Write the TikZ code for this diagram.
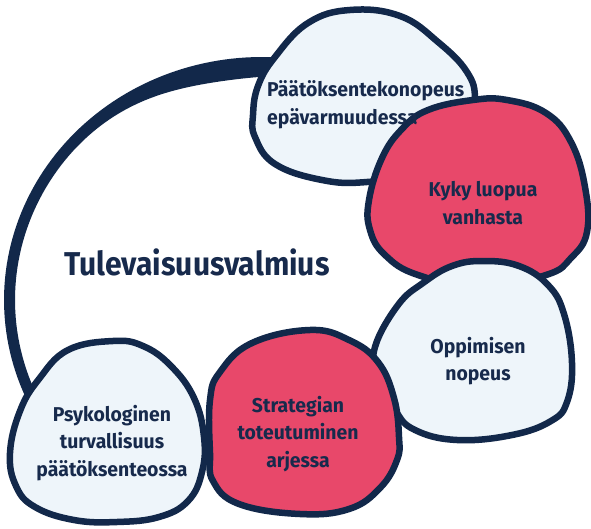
\documentclass[tikz,border=0pt]{standalone}
\usepackage{fontspec}
\setmainfont{Fira Sans}[FakeStretch=0.97]
\newfontfamily\titlefont{Fira Sans}[FakeStretch=0.91]
\definecolor{navy}{HTML}{12284A}
\definecolor{inknavy}{HTML}{172A4C}
\definecolor{paleblue}{HTML}{EEF5FA}
\definecolor{rosered}{HTML}{E8486A}
\begin{document}
\begin{tikzpicture}[x=1pt,y=-1pt,
  blob/.style={draw=navy, line width=6.5pt, line join=round},
  lightblob/.style={blob, fill=paleblue},
  redblob/.style={blob, fill=rosered},
  lbl/.style={text=inknavy, font=\bfseries\fontsize{20}{27.5}\selectfont, align=center, inner sep=0pt},
  ring/.style={fill=navy}]
\useasboundingbox[fill=white] (0,0) rectangle (591,529);
% big ring (brush stroke of varying width)
\path[ring] plot[domain=150:276, samples=80, variable=\t] ({262+258*cos(\t)},{300+243*sin(\t)})
  -- plot[domain=276:150, samples=80, variable=\t] ({262+(247-10*exp(-((\t-262)/22)*((\t-262)/22)))*cos(\t)},{300+(232-10*exp(-((\t-262)/22)*((\t-262)/22)))*sin(\t)}) -- cycle;
% bubbles
\path[lightblob] plot[smooth cycle, tension=0.7] coordinates {(253,115) (258,86) (275,57) (308,23) (350,10) (400,16) (438,42) (467,72) (475,100) (468,135) (425,172) (367,182) (322,180) (275,164) (255,137)};
\path[redblob] plot[smooth cycle, tension=0.7] coordinates {(369,200) (382,158) (402,129) (428,110) (473,100) (507,100) (546,113) (571,142) (585,187) (587,232) (571,258) (546,275) (480,287) (418,275) (385,255) (370,230)};
\path[lightblob] plot[smooth cycle, tension=0.7] coordinates {(423,283) (452,266) (483,261) (519,266) (548,285) (564,314) (572,363) (567,402) (551,421) (512,435) (457,440) (415,430) (395,410) (378,375) (375,347) (398,305)};
\path[redblob] plot[smooth cycle, tension=0.7] coordinates {(310,330) (349,340) (378,362) (394,398) (399,437) (397,460) (380,488) (349,509) (300,514) (239,504) (213,481) (210,453) (210,400) (220,372) (252,343)};
\path[lightblob] plot[smooth cycle, tension=0.7] coordinates {(113,341) (143,346) (171,366) (194,398) (204,437) (202,472) (188,501) (159,517) (117,522) (74,520) (35,507) (16,486) (10,453) (20,411) (39,379) (68,350)};
% labels
\node[lbl, font=\titlefont\bfseries\fontsize{33}{36}\selectfont, anchor=base] (title) at (197,275) {Tulevaisuusvalmius};
\node[lbl, anchor=west] (t1) at (267,105) {\begin{tabular}{@{}l@{}}Päätöksentekonopeus\\epävarmuudessa\end{tabular}};
\node[lbl] (t2) at (483,203) {Kyky luopua\\vanhasta};
\node[lbl] (t3) at (478,361) {Oppimisen\\nopeus};
\node[lbl] (t4) at (298,434) {Strategian\\toteutuminen\\arjessa};
\node[lbl] (t5) at (112,443) {Psykologinen\\turvallisuus\\päätöksenteossa};
\end{tikzpicture}
\end{document}
